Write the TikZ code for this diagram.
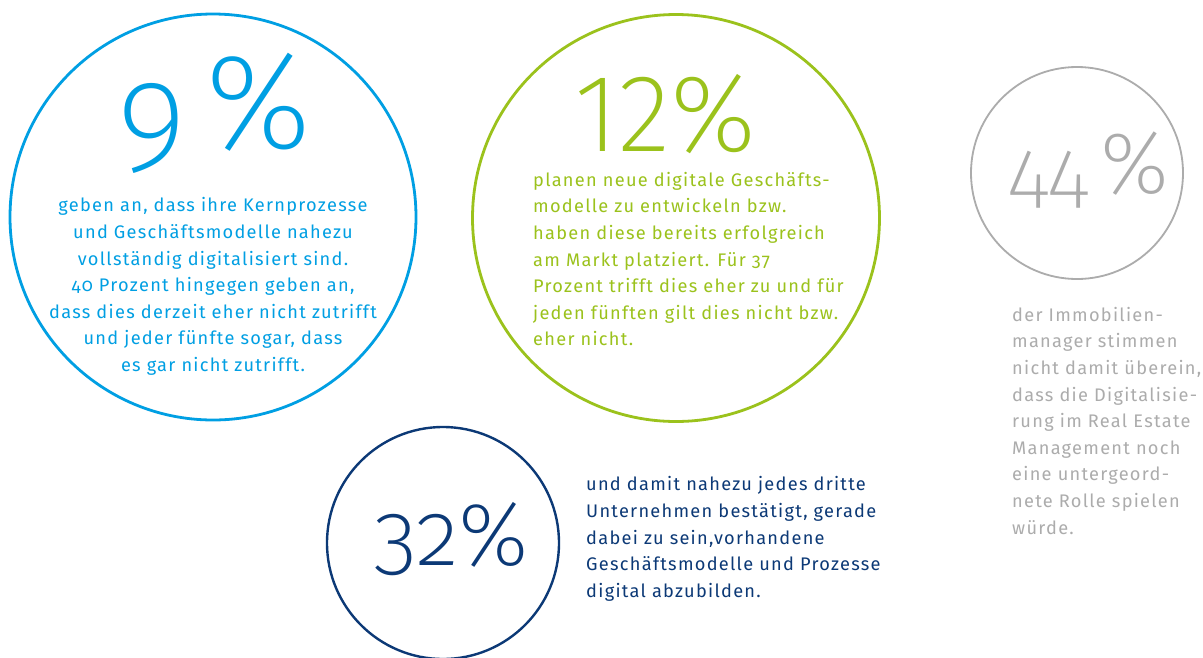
\documentclass[tikz,border=0pt]{standalone}
\usepackage{fontspec}
\setmainfont{Fira Sans}[Numbers=OldStyle, LetterSpace=7]
\IfFontExistsTF{Fira Sans ExtraLight}
  {\newfontfamily\bigfont{Fira Sans ExtraLight}[Numbers=OldStyle]\newfontfamily\biglin{Fira Sans ExtraLight}[Numbers=Lining]}
  {\IfFontExistsTF{Fira Sans Light}
    {\newfontfamily\bigfont{Fira Sans Light}[Numbers=OldStyle]\newfontfamily\biglin{Fira Sans Light}[Numbers=Lining]}
    {\newfontfamily\bigfont{Fira Sans}[Numbers=OldStyle]\newfontfamily\biglin{Fira Sans}[Numbers=Lining]}}
\definecolor{cblue}{RGB}{0,159,227}
\definecolor{cgreen}{RGB}{155,194,28}
\definecolor{cnavy}{RGB}{12,57,118}
\definecolor{cgray}{RGB}{172,172,172}
\tikzset{
  ring/.style={circle, draw, inner sep=0pt},
  body/.style={inner sep=0pt, font=\fontsize{18.2}{26.6}\selectfont},
  bignum/.style={inner sep=0pt, anchor=base west}
}
\newcommand{\fs}{\rule{0pt}{20pt}}
\begin{document}
\begin{tikzpicture}[x=1pt,y=-1pt]
\fill[white] (0,0) rectangle (1203,657);
\useasboundingbox (0,0) rectangle (1203,657);
% circles
\node[ring, draw=cblue, line width=2.8pt, minimum size=406pt] (c9) at (213,217) {};
\node[ring, draw=cgreen, line width=2.8pt, minimum size=407pt] (c12) at (676,218) {};
\node[ring, draw=cgray, line width=1.8pt, minimum size=212pt] (c44) at (1077,173) {};
\node[ring, draw=cnavy, line width=2.4pt, minimum size=232pt] (c32) at (443,543) {};
% big numbers
\node[bignum, text=cblue, font=\bigfont\fontsize{132}{132}\selectfont] (n9) at (117,148) {\raisebox{-10pt}{9}\hspace{19pt}{\fontsize{136}{136}\selectfont\%}};
\node[bignum, text=cgreen, font=\biglin\fontsize{110}{110}\selectfont] (n12) at (574,151) {12\%};
\node[bignum, text=cgray, font=\bigfont\fontsize{85}{85}\selectfont] (n44) at (1008,193) {\raisebox{-6pt}{44}\hspace{12pt}{\fontsize{88}{88}\selectfont\%}};
\node[bignum, text=cnavy, font=\bigfont\fontsize{90}{90}\selectfont] (n32) at (373,565) {32\%};
% body texts
\node[body, text=cblue, align=center, anchor=north] (t9) at (213,191.7) {\fs geben an, dass ihre Kernprozesse\\
und Geschäftsmodelle nahezu\\
vollständig digitalisiert sind.\\
40 Prozent hingegen geben an,\\
dass dies derzeit eher nicht zutrifft\\
und jeder fünfte sogar, dass\\
es gar nicht zutrifft.};
\node[body, text=cgreen, align=left, anchor=north west] (t12) at (533,166) {\fs planen neue digitale Geschäfts-\\
modelle zu entwickeln bzw.\\
haben diese bereits erfolgreich\\
am Markt platziert. Für 37\\
Prozent trifft dies eher zu und für\\
jeden fünften gilt dies nicht bzw.\\
eher nicht.};
\node[body, text=cgray, align=left, anchor=north west] (t44) at (1012,301) {\fs der Immobilien-\\
manager stimmen\\
nicht damit überein,\\
dass die Digitalisie-\\
rung im Real Estate\\
Management noch\\
eine untergeord-\\
nete Rolle spielen\\
würde.};
\node[body, text=cnavy, align=left, anchor=north west] (t32) at (586,470.7) {\fs und damit nahezu jedes dritte\\
Unternehmen bestätigt, gerade\\
dabei zu sein,vorhandene\\
Geschäftsmodelle und Prozesse\\
digital abzubilden.};
\end{tikzpicture}
\end{document}
